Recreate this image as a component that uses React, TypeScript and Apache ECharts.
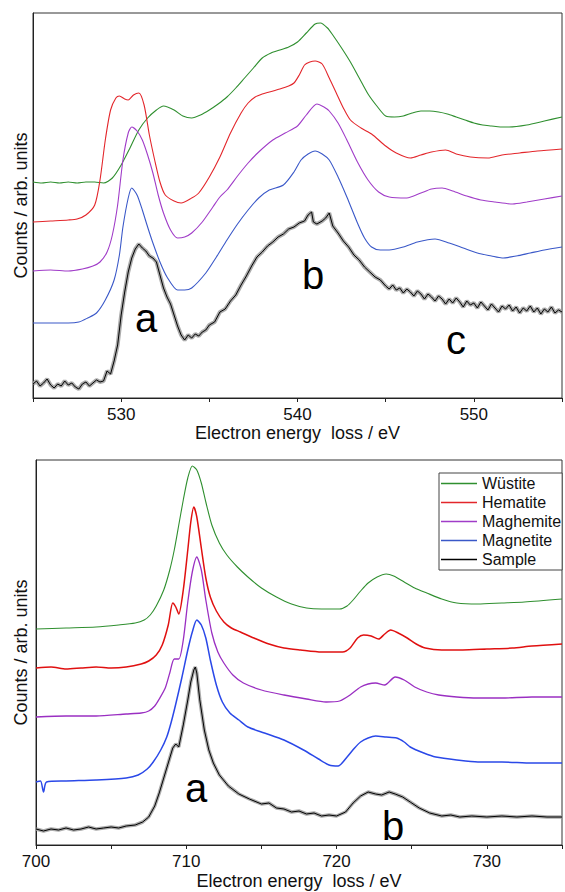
import React, { useEffect, useRef } from "react";
import * as echarts from "echarts";

// ---------- Data (energy eV, counts arb. units) ----------
// O K-edge (top panel)
const oWustite: [number, number][] = [
  [525, 216], [525.5, 215], [526, 216], [526.5, 215], [527, 216], [527.5, 215], [528, 216], [528.5, 216],
  [529, 215], [529.5, 220], [530, 233], [530.5, 250], [531, 268], [531.5, 280], [532, 288], [532.4, 292],
  [533, 288], [533.5, 282], [534, 280], [534.5, 283], [535, 288], [535.5, 294], [536, 301], [536.5, 310],
  [537, 320], [537.5, 330], [538, 340], [538.5, 345], [539, 348], [539.5, 351], [540, 356], [540.5, 365],
  [541, 374], [541.3, 375], [541.7, 370], [542, 363], [542.5, 350], [543, 336], [543.5, 320], [544, 304],
  [544.5, 292], [545, 282], [545.5, 281], [546, 282], [546.5, 285], [547, 287], [547.5, 287], [548, 286],
  [548.5, 284], [549, 281], [549.5, 278], [550, 275], [550.5, 273], [551, 272], [551.5, 271], [552, 271],
  [553, 273], [554, 277], [555, 281],
];
const oHematite: [number, number][] = [
  [525, 176], [526, 177], [527, 178], [527.5, 179], [528, 183], [528.5, 193], [528.8, 218], [529.1, 258],
  [529.4, 288], [529.7, 300], [529.9, 302], [530.2, 299], [530.4, 298], [530.7, 303], [531, 305], [531.3, 293],
  [531.6, 263], [531.9, 238], [532.2, 216], [532.5, 203], [533, 197], [533.4, 195], [534, 200], [534.4, 205],
  [535, 221], [535.6, 241], [536.2, 265], [536.8, 285], [537.2, 295], [537.6, 301], [538, 304], [538.4, 306],
  [539, 309], [539.5, 312], [539.8, 315], [540.1, 323], [540.4, 333], [540.7, 336], [541, 337], [541.4, 334],
  [541.8, 320], [542.2, 305], [542.6, 290], [543, 278], [543.6, 270], [544.2, 264], [545, 252], [545.6, 245],
  [546.4, 240], [547, 243], [547.6, 246], [548.4, 248], [549, 244], [549.8, 241], [550.8, 240], [551.6, 243],
  [552.6, 245], [553.6, 247], [555, 249],
];
const oMaghemite: [number, number][] = [
  [525, 127], [526, 128], [527, 127], [527.8, 129], [528.4, 132], [528.8, 136], [529.2, 146], [529.5, 163],
  [529.8, 193], [530.1, 238], [530.4, 265], [530.6, 271], [530.9, 267], [531.2, 258], [531.5, 243], [531.8, 225],
  [532.1, 203], [532.4, 185], [532.8, 168], [533.2, 160], [533.6, 161], [534, 165], [534.6, 176], [535.2, 191],
  [535.6, 201], [536, 208], [536.6, 222], [537.2, 235], [537.8, 246], [538.6, 258], [539.3, 265], [540, 272],
  [540.5, 283], [541.1, 294], [541.5, 291], [541.8, 287], [542.3, 275], [542.8, 258], [543.4, 236], [544, 218],
  [544.6, 206], [545.2, 201], [546.2, 200], [547, 205], [547.6, 209], [548.2, 210], [548.8, 207], [549.6, 202],
  [550.4, 198], [551.2, 196], [552.2, 194], [553, 196], [554, 199], [555, 202],
];
const oMagnetite: [number, number][] = [
  [525, 75], [526, 75], [527, 75], [527.6, 76], [528.1, 80], [528.6, 85], [529.1, 98], [529.6, 118],
  [529.9, 143], [530.1, 171], [530.4, 200], [530.6, 210], [530.9, 203], [531.2, 188], [531.5, 171], [531.8, 155],
  [532.2, 136], [532.6, 121], [533.2, 108], [533.6, 108], [534, 110], [534.8, 125], [535.4, 141], [536, 158],
  [536.6, 174], [537.2, 188], [537.8, 200], [538.4, 208], [539.2, 213], [539.8, 226], [540.2, 238], [540.6, 244],
  [541, 247], [541.4, 244], [541.8, 238], [542.3, 221], [542.8, 201], [543.4, 175], [543.8, 160], [544.2, 151],
  [544.7, 148], [545.2, 148], [546, 151], [546.8, 156], [547.8, 159], [548.6, 155], [549.4, 150], [550.2, 145],
  [551, 142], [551.6, 140], [552.4, 142], [553.2, 145], [554, 148], [555, 151],
];
const oSample: [number, number][] = [
  [525, 14], [525.2, 17], [525.4, 12], [525.6, 15], [525.8, 19], [526, 13], [526.2, 10], [526.4, 14],
  [526.6, 12], [526.8, 17], [527, 13], [527.2, 15], [527.4, 11], [527.6, 9], [527.8, 14], [528, 16],
  [528.2, 12], [528.4, 15], [528.6, 18], [528.8, 16], [529, 17], [529.2, 27], [529.4, 24], [529.6, 37],
  [529.8, 53], [530, 83], [530.2, 106], [530.4, 126], [530.6, 140], [530.8, 149], [531, 154], [531.2, 150],
  [531.4, 147], [531.6, 142], [531.8, 140], [532, 136], [532.2, 123], [532.4, 110], [532.6, 101], [532.8, 94],
  [533, 83], [533.2, 72], [533.4, 63], [533.6, 58], [533.8, 63], [534, 60], [534.2, 64], [534.4, 62],
  [534.6, 66], [534.8, 68], [535, 73], [535.3, 76], [535.6, 86], [535.9, 89], [536.2, 97], [536.5, 103],
  [536.8, 113], [537.1, 122], [537.4, 132], [537.7, 141], [538, 146], [538.3, 152], [538.6, 156], [538.9, 161],
  [539.2, 164], [539.5, 169], [539.8, 171], [540.1, 175], [540.4, 177], [540.6, 183], [540.8, 186], [540.9, 176],
  [541.1, 174], [541.4, 177], [541.6, 180], [541.8, 185], [542, 172], [542.3, 165], [542.6, 157], [542.9, 151],
  [543.2, 143], [543.5, 138], [543.8, 131], [544.1, 126], [544.4, 121], [544.7, 118], [545, 112], [545.2, 109],
  [545.4, 113], [545.6, 108], [545.8, 110], [546, 105], [546.2, 109], [546.4, 106], [546.6, 102], [546.8, 107],
  [547, 104], [547.2, 99], [547.4, 104], [547.6, 101], [547.8, 97], [548, 102], [548.2, 99], [548.4, 94],
  [548.6, 99], [548.8, 95], [549, 100], [549.2, 96], [549.4, 91], [549.6, 97], [549.8, 93], [550, 95],
  [550.2, 90], [550.4, 96], [550.6, 92], [550.8, 88], [551, 94], [551.2, 90], [551.4, 86], [551.6, 92],
  [551.8, 89], [552, 93], [552.2, 87], [552.4, 91], [552.6, 85], [552.8, 90], [553, 87], [553.2, 92],
  [553.4, 86], [553.6, 90], [553.8, 84], [554, 89], [554.2, 86], [554.4, 91], [554.6, 85], [554.8, 88],
  [555, 86],
];

// Fe L-edge (bottom panel)
const feWustite: [number, number][] = [
  [700, 216], [702, 217], [704, 218], [705.5, 220], [706.6, 222], [707.2, 225], [707.6, 230], [708, 239],
  [708.5, 255], [708.9, 275], [709.2, 295], [709.5, 320], [709.8, 345], [710.1, 367], [710.4, 379], [710.7, 375],
  [711, 362], [711.3, 343], [711.7, 320], [712.2, 302], [712.7, 290], [713.4, 278], [714.1, 268], [715, 257],
  [716, 248], [717, 241], [718, 237], [719, 236], [720.2, 236], [720.7, 239], [721.1, 245], [721.6, 254],
  [722.1, 262], [722.7, 268], [723.3, 271], [723.8, 269], [724.5, 263], [725.2, 257], [726, 252], [727, 246],
  [728, 242], [729.4, 241], [731, 242], [732.5, 243], [735, 246],
];
const feHematite: [number, number][] = [
  [700, 177], [701, 178], [702, 176], [703, 177], [704, 178], [705, 177], [706, 178], [707, 181],
  [707.5, 184], [708, 190], [708.4, 200], [708.8, 220], [709.1, 242], [709.3, 238], [709.5, 231], [709.8, 255],
  [710.1, 295], [710.3, 323], [710.5, 338], [710.7, 328], [711, 297], [711.3, 267], [711.6, 248], [712, 234],
  [712.5, 223], [713, 217], [713.6, 213], [714.5, 207], [715.5, 201], [716.5, 197], [717.6, 195], [719, 193],
  [720.4, 193], [720.9, 197], [721.4, 207], [721.8, 210], [722.3, 209], [722.8, 206], [723.2, 211], [723.6, 215],
  [724.1, 212], [724.7, 207], [725.3, 201], [725.9, 197], [727, 195], [728.4, 195], [730, 196], [731.7, 197],
  [733, 199], [735, 201],
];
const feMaghemite: [number, number][] = [
  [700, 128], [702, 129], [704, 129], [706, 131], [707, 132], [707.5, 134], [707.9, 139], [708.2, 146],
  [708.6, 157], [708.9, 172], [709.2, 186], [709.5, 186], [709.8, 205], [710.1, 243], [710.4, 273], [710.7, 288],
  [711, 275], [711.3, 245], [711.7, 212], [712.1, 193], [712.5, 182], [713.1, 170], [713.8, 162], [715, 155],
  [716.5, 150], [718, 146], [719.3, 143], [720.2, 144], [720.9, 150], [721.6, 158], [722.1, 161], [722.6, 162],
  [723.2, 160], [723.9, 168], [724.5, 165], [725.2, 158], [726, 153], [726.8, 150], [728, 148], [729.4, 147],
  [731, 147], [733, 148], [735, 148],
];
const feMagnetite: [number, number][] = [
  [700, 63], [700.3, 64], [700.5, 53], [700.7, 63], [702, 64], [704, 65], [706, 67], [706.8, 70],
  [707.4, 76], [707.8, 83], [708.3, 95], [708.7, 108], [709, 123], [709.3, 141], [709.7, 167], [710.1, 195],
  [710.4, 213], [710.7, 225], [711, 220], [711.3, 207], [711.6, 185], [712, 160], [712.4, 143], [712.9, 132],
  [713.5, 125], [714.1, 118], [715.2, 112], [716.5, 105], [717.8, 95], [718.8, 86], [719.5, 80], [720.1, 79],
  [720.7, 88], [721.2, 97], [721.6, 103], [722.1, 107], [722.6, 109], [723.3, 108], [724, 107], [724.5, 103],
  [724.9, 98], [725.8, 92], [726.6, 88], [728, 85], [729.4, 83], [731, 83], [733, 82], [735, 82],
];
const feSample: [number, number][] = [
  [700, 16], [700.5, 14], [701, 16], [701.5, 15], [702, 17], [702.5, 15], [703, 16], [703.5, 18],
  [704, 16], [704.5, 17], [705, 18], [705.5, 17], [706, 19], [706.6, 20], [707.1, 23], [707.5, 28],
  [707.9, 39], [708.2, 52], [708.5, 67], [708.8, 82], [709.1, 97], [709.3, 101], [709.5, 98], [709.8, 120],
  [710.1, 145], [710.3, 163], [710.5, 175], [710.6, 178], [710.7, 172], [710.9, 145], [711.2, 115], [711.5, 95],
  [711.8, 82], [712.2, 70], [712.8, 59], [713.5, 51], [714.2, 46], [715, 41], [715.5, 42], [716, 37],
  [716.5, 36], [717, 33], [717.5, 34], [718, 31], [718.5, 32], [719, 29], [719.5, 30], [720, 29],
  [720.6, 33], [721.1, 42], [721.6, 49], [722.1, 53], [722.6, 51], [723, 50], [723.5, 53], [723.9, 51],
  [724.4, 48], [724.9, 43], [725.5, 37], [726.2, 32], [727, 29], [727.6, 30], [728.2, 28], [729, 29],
  [730, 28], [731, 29], [732, 28], [733, 29], [734, 28], [735, 28],
];

const seriesNames = ["Wüstite", "Hematite", "Maghemite", "Magnetite", "Sample"];
const topSeries = [oWustite, oHematite, oMaghemite, oMagnetite, oSample];
const bottomSeries = [feWustite, feHematite, feMaghemite, feMagnetite, feSample];
const topColors = ["#2f8f2f", "#e3262b", "#a03cc8", "#3a58c8", "#000000"];
const bottomColors = ["#2f8f2f", "#e01010", "#9a2fc2", "#2a48e8", "#000000"];
const topWidths = [1.1, 1.1, 1.1, 1.1, 1];
const bottomWidths = [1.1, 1.5, 1.3, 1.5, 1];

const FONT = "'Liberation Sans', Arial, sans-serif";

export default function App() {
  const ref = useRef<HTMLDivElement>(null);
  useEffect(() => {
    if (!ref.current) return;
    const chart = echarts.init(ref.current, undefined, { renderer: "svg" });

    const makeX = (gridIndex: number, min: number, max: number, gap: number) => ({
      type: "value",
      gridIndex,
      min,
      max,
      interval: 5,
      name: "Electron energy  loss / eV",
      nameLocation: "middle",
      nameGap: gap,
      nameTextStyle: { fontSize: 18, color: "#111", fontFamily: FONT },
      axisLine: { show: true, lineStyle: { color: "#222", width: 1 } },
      axisTick: { show: true, length: 4, lineStyle: { color: "#222" } },
      axisLabel: {
        fontSize: 17,
        color: "#111",
        fontFamily: FONT,
        margin: 8,
        formatter: (v: number) => (v % 10 === 0 ? String(v) : ""),
      },
      splitLine: { show: false },
    });
    const makeY = (gridIndex: number, gap: number) => ({
      type: "value",
      gridIndex,
      min: 0,
      max: 385,
      name: "Counts / arb. units",
      nameLocation: "middle",
      nameGap: gap,
      nameTextStyle: { fontSize: 18, color: "#111", fontFamily: FONT },
      axisLine: { show: true, lineStyle: { color: "#222", width: 1 } },
      axisTick: { show: false },
      axisLabel: { show: false },
      splitLine: { show: false },
    });

    const series: any[] = [];
    const addPanel = (
      data: [number, number][][],
      colors: string[],
      idx: number,
      bandWidth: number,
      widths: number[]
    ) => {
      // uncertainty band for the sample spectrum, drawn first (underneath)
      series.push({
        type: "line",
        name: "Sample band",
        xAxisIndex: idx,
        yAxisIndex: idx,
        data: data[4],
        showSymbol: false,
        silent: true,
        color: "#9c9c9c",
        lineStyle: { color: "#9c9c9c", width: bandWidth, opacity: 0.85 },
        emphasis: { disabled: true },
      });
      data.forEach((d, i) => {
        series.push({
          type: "line",
          name: seriesNames[i],
          xAxisIndex: idx,
          yAxisIndex: idx,
          data: d,
          showSymbol: false,
          smooth: i === 4 ? false : 0.25,
          color: colors[i],
          lineStyle: { color: colors[i], width: widths[i] },
          emphasis: { disabled: true },
        });
      });
    };
    addPanel(topSeries, topColors, 0, 4, topWidths);
    addPanel(bottomSeries, bottomColors, 1, 3.5, bottomWidths);

    const letter = (x: number, y: number, t: string) => ({
      type: "text",
      x,
      y,
      style: {
        text: t,
        fontSize: 40,
        fontFamily: FONT,
        fill: "#000",
        textAlign: "center",
        textVerticalAlign: "middle",
      },
      z: 10,
    });

    chart.setOption({
      animation: false,
      backgroundColor: "#ffffff",
      grid: [
        { left: 33, top: 13, width: 540, height: 385, show: true, borderColor: "#333", borderWidth: 1, backgroundColor: "transparent" },
        { left: 36, top: 460, width: 536.5, height: 385, show: true, borderColor: "#333", borderWidth: 1, backgroundColor: "transparent" },
      ],
      xAxis: [makeX(0, 525, 555, 23), makeX(1, 700, 735, 27)],
      yAxis: [makeY(0, 3), makeY(1, 6)],
      legend: {
        data: seriesNames,
        orient: "vertical",
        left: 439,
        top: 473,
        icon: "rect",
        itemWidth: 36,
        itemHeight: 1.5,
        itemGap: 0,
        selectedMode: false,
        padding: [1, 1, 1, 2],
        borderColor: "#444",
        borderWidth: 1,
        backgroundColor: "#fff",
        textStyle: { fontSize: 16, color: "#111", fontFamily: FONT, lineHeight: 19 },
      },
      graphic: [
        letter(146, 318, "a"),
        letter(313, 275, "b"),
        letter(456, 340, "c"),
        letter(196, 788, "a"),
        letter(393, 826, "b"),
      ],
      series,
    });
    return () => chart.dispose();
  }, []);
  return (
    <div
      ref={ref}
      style={{ position: "absolute", left: 0, top: 0, width: 565, height: 892, background: "#fff" }}
    />
  );
}
